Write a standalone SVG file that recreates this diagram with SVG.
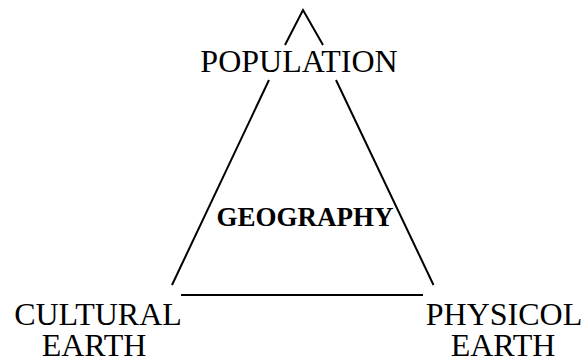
<svg xmlns="http://www.w3.org/2000/svg" width="582" height="363" viewBox="0 0 582 363">
<style>
.l{stroke:#000;stroke-width:2;fill:none}
.t{font-family:"Liberation Serif","Times New Roman",serif;font-size:32px;fill:#000;text-anchor:middle}
.b{font-family:"Liberation Serif","Times New Roman",serif;font-size:27px;font-weight:bold;fill:#000;text-anchor:middle}
</style>
<rect width="582" height="363" fill="#fff"/>
<g id="connectors">
<polyline class="l" points="285,45 303,10 323,45"/>
<line class="l" x1="269" y1="80" x2="172" y2="285"/>
<line class="l" x1="336" y1="80" x2="433.5" y2="285"/>
<line class="l" x1="181" y1="295" x2="423" y2="295"/>
</g>
<g id="population"><text class="t" x="299" y="72">POPULATION</text></g>
<g id="geography"><text class="b" x="305" y="226">GEOGRAPHY</text></g>
<g id="cultural"><text class="t" x="98" y="325">CULTURAL</text><text class="t" x="94" y="356">EARTH</text></g>
<g id="physicol"><text class="t" x="504" y="325">PHYSICOL</text><text class="t" x="503" y="356">EARTH</text></g>
</svg>
